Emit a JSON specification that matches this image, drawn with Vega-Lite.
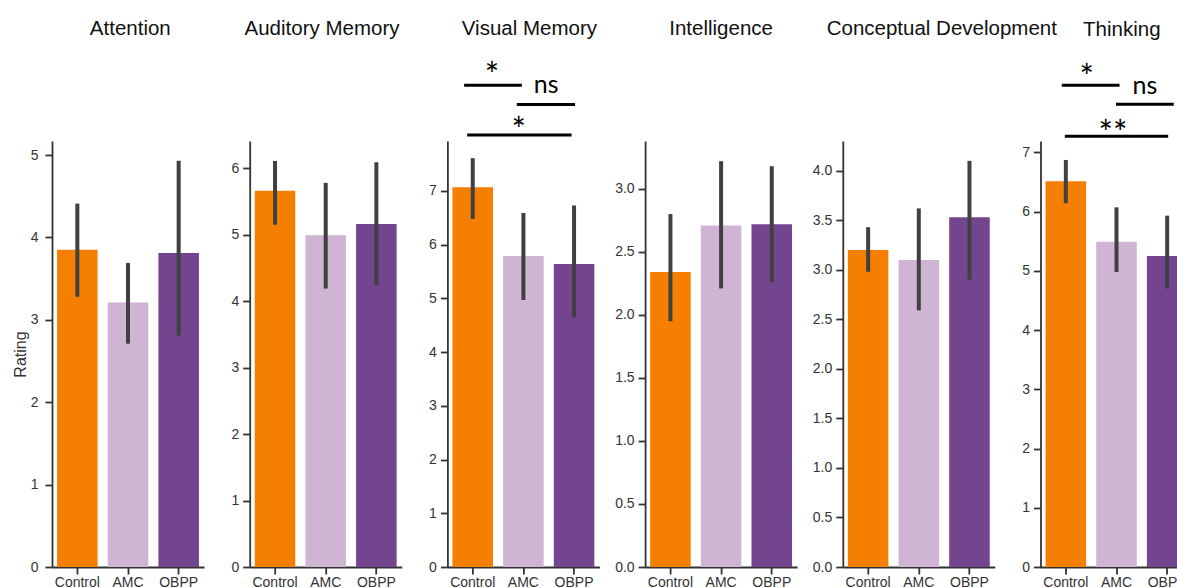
{
  "$schema": "https://vega.github.io/schema/vega-lite/v6.json",
  "padding": {"left": 12, "top": 18, "right": 0, "bottom": 0},
  "spacing": 45.7,
  "bounds": "flush",
  "datasets": {
    "bars": [
      {"panel": "Attention", "group": "Control", "mean": 3.85, "lo": 3.28, "hi": 4.41},
      {"panel": "Attention", "group": "AMC", "mean": 3.21, "lo": 2.71, "hi": 3.69},
      {"panel": "Attention", "group": "OBPP", "mean": 3.81, "lo": 2.81, "hi": 4.93},
      {"panel": "Auditory Memory", "group": "Control", "mean": 5.66, "lo": 5.15, "hi": 6.11},
      {"panel": "Auditory Memory", "group": "AMC", "mean": 4.99, "lo": 4.19, "hi": 5.78},
      {"panel": "Auditory Memory", "group": "OBPP", "mean": 5.16, "lo": 4.24, "hi": 6.09},
      {"panel": "Visual Memory", "group": "Control", "mean": 7.07, "lo": 6.48, "hi": 7.61},
      {"panel": "Visual Memory", "group": "AMC", "mean": 5.79, "lo": 4.97, "hi": 6.59},
      {"panel": "Visual Memory", "group": "OBPP", "mean": 5.64, "lo": 4.64, "hi": 6.73},
      {"panel": "Intelligence", "group": "Control", "mean": 2.34, "lo": 1.95, "hi": 2.8},
      {"panel": "Intelligence", "group": "AMC", "mean": 2.71, "lo": 2.21, "hi": 3.22},
      {"panel": "Intelligence", "group": "OBPP", "mean": 2.72, "lo": 2.26, "hi": 3.18},
      {"panel": "Conceptual Development", "group": "Control", "mean": 3.2, "lo": 2.98, "hi": 3.43},
      {"panel": "Conceptual Development", "group": "AMC", "mean": 3.1, "lo": 2.59, "hi": 3.62},
      {"panel": "Conceptual Development", "group": "OBPP", "mean": 3.53, "lo": 2.9, "hi": 4.1},
      {"panel": "Thinking", "group": "Control", "mean": 6.51, "lo": 6.14, "hi": 6.87},
      {"panel": "Thinking", "group": "AMC", "mean": 5.49, "lo": 4.98, "hi": 6.07},
      {"panel": "Thinking", "group": "OBPP", "mean": 5.25, "lo": 4.7, "hi": 5.93}
    ],
    "siglines": [
      {"panel": "Visual Memory", "x1": -0.17, "x2": 0.97, "y": 8.97},
      {"panel": "Visual Memory", "x1": 0.87, "x2": 2.02, "y": 8.61},
      {"panel": "Visual Memory", "x1": -0.11, "x2": 1.95, "y": 8.04},
      {"panel": "Thinking", "x1": -0.08, "x2": 1.06, "y": 8.13},
      {"panel": "Thinking", "x1": 0.99, "x2": 2.13, "y": 7.81},
      {"panel": "Thinking", "x1": -0.02, "x2": 2.02, "y": 7.27}
    ],
    "sigtext": [
      {"panel": "Visual Memory", "x": 0.38, "y": 8.94, "label": "*"},
      {"panel": "Visual Memory", "x": 1.45, "y": 8.82, "label": "ns"},
      {"panel": "Visual Memory", "x": 0.91, "y": 7.92, "label": "*"},
      {"panel": "Thinking", "x": 0.41, "y": 8.06, "label": "*"},
      {"panel": "Thinking", "x": 1.56, "y": 7.99, "label": "ns"},
      {"panel": "Thinking", "x": 0.93, "y": 7.13, "label": "**"}
    ]
  },
  "data": {"name": "bars"},
  "hconcat": [
    {
      "width": 152, "height": 426,
      "title": {"text": "Attention", "dx": 2.3, "offset": 102},
      "transform": [{"filter": "datum.panel === 'Attention'"}],
      "layer": [
        {
          "mark": {"type": "bar"},
          "encoding": {
            "x": {"field": "group", "type": "nominal", "sort": ["Control", "AMC", "OBPP"], "scale": {"paddingInner": 0.2, "paddingOuter": 0.1}, "axis": {"title": null, "labelAngle": 0}},
            "y": {"field": "mean", "type": "quantitative", "scale": {"domain": [0, 5.17], "nice": false}, "axis": {"title": "Rating", "titleFontSize": 16, "titleFont": "Liberation Sans", "titleFontWeight": "normal", "titleColor": "#333333", "titlePadding": 2, "values": [0, 1, 2, 3, 4, 5], "format": "d", "labelPadding": 7}},
            "color": {"field": "group", "type": "nominal", "scale": {"domain": ["Control", "AMC", "OBPP"], "range": ["#F57F00", "#D0B4D4", "#74458F"]}, "legend": null}
          }
        },
        {
          "mark": {"type": "rule", "strokeWidth": 4, "color": "#404040"},
          "encoding": {
            "x": {"field": "group", "type": "nominal", "sort": ["Control", "AMC", "OBPP"], "title": null},
            "y": {"field": "lo", "type": "quantitative", "scale": {"domain": [0, 5.17], "nice": false}, "title": "Rating"},
            "y2": {"field": "hi"}
          }
        }
      ]
    },
    {
      "width": 152, "height": 426,
      "title": {"text": "Auditory Memory", "dx": -3.7, "offset": 102},
      "transform": [{"filter": "datum.panel === 'Auditory Memory'"}],
      "layer": [
        {
          "mark": {"type": "bar"},
          "encoding": {
            "x": {"field": "group", "type": "nominal", "sort": ["Control", "AMC", "OBPP"], "scale": {"paddingInner": 0.2, "paddingOuter": 0.1}, "axis": {"title": null, "labelAngle": 0}},
            "y": {"field": "mean", "type": "quantitative", "scale": {"domain": [0, 6.41], "nice": false}, "axis": {"title": null, "values": [0, 1, 2, 3, 4, 5, 6], "format": "d"}},
            "color": {"field": "group", "type": "nominal", "scale": {"domain": ["Control", "AMC", "OBPP"], "range": ["#F57F00", "#D0B4D4", "#74458F"]}, "legend": null}
          }
        },
        {
          "mark": {"type": "rule", "strokeWidth": 4, "color": "#404040"},
          "encoding": {
            "x": {"field": "group", "type": "nominal", "sort": ["Control", "AMC", "OBPP"], "title": null},
            "y": {"field": "lo", "type": "quantitative", "scale": {"domain": [0, 6.41], "nice": false}, "title": null},
            "y2": {"field": "hi"}
          }
        }
      ]
    },
    {
      "width": 152, "height": 426,
      "title": {"text": "Visual Memory", "dx": 6, "offset": 20},
      "layer": [
        {
          "transform": [{"filter": "datum.panel === 'Visual Memory'"}],
          "layer": [
            {
              "mark": {"type": "bar"},
              "encoding": {
                "x": {"field": "group", "type": "nominal", "sort": ["Control", "AMC", "OBPP"], "scale": {"paddingInner": 0.2, "paddingOuter": 0.1}, "axis": {"title": null, "labelAngle": 0}},
                "y": {"field": "mean", "type": "quantitative", "scale": {"domain": [0, 7.93], "nice": false}, "axis": {"title": null, "values": [0, 1, 2, 3, 4, 5, 6, 7], "format": "d"}},
                "color": {"field": "group", "type": "nominal", "scale": {"domain": ["Control", "AMC", "OBPP"], "range": ["#F57F00", "#D0B4D4", "#74458F"]}, "legend": null}
              }
            },
            {
              "mark": {"type": "rule", "strokeWidth": 4, "color": "#404040"},
              "encoding": {
                "x": {"field": "group", "type": "nominal", "sort": ["Control", "AMC", "OBPP"], "title": null},
                "y": {"field": "lo", "type": "quantitative", "scale": {"domain": [0, 7.93], "nice": false}, "title": null},
                "y2": {"field": "hi"}
              }
            }
          ]
        },
        {
          "data": {"name": "siglines"},
          "transform": [{"filter": "datum.panel === 'Visual Memory'"}],
          "mark": {"type": "rule", "strokeWidth": 3, "color": "#000000", "clip": false},
          "encoding": {
            "x": {"field": "x1", "type": "quantitative", "scale": {"domain": [-0.5, 2.5], "nice": false, "zero": false}, "axis": null},
            "x2": {"field": "x2"},
            "y": {"field": "y", "type": "quantitative", "scale": {"domain": [0, 7.93], "nice": false}, "title": null}
          }
        },
        {
          "data": {"name": "sigtext"},
          "transform": [{"filter": "datum.panel === 'Visual Memory' && datum.label === 'ns'"}],
          "mark": {"type": "text", "font": "Lato", "fontSize": 25, "baseline": "alphabetic", "align": "center", "color": "#000000", "clip": false},
          "encoding": {
            "x": {"field": "x", "type": "quantitative", "scale": {"domain": [-0.5, 2.5], "nice": false, "zero": false}, "axis": null},
            "y": {"field": "y", "type": "quantitative", "scale": {"domain": [0, 7.93], "nice": false}, "title": null},
            "text": {"field": "label"}
          }
        },
        {
          "data": {"name": "sigtext"},
          "transform": [{"filter": "datum.panel === 'Visual Memory' && datum.label !== 'ns'"}],
          "mark": {"type": "text", "font": "Lato", "fontSize": 34, "baseline": "alphabetic", "align": "center", "color": "#000000", "clip": false},
          "encoding": {
            "x": {"field": "x", "type": "quantitative", "scale": {"domain": [-0.5, 2.5], "nice": false, "zero": false}, "axis": null},
            "y": {"field": "y", "type": "quantitative", "scale": {"domain": [0, 7.93], "nice": false}, "title": null},
            "text": {"field": "label"}
          }
        }
      ],
      "resolve": {"scale": {"x": "independent"}}
    },
    {
      "width": 152, "height": 426,
      "title": {"text": "Intelligence", "dx": 0, "offset": 102},
      "transform": [{"filter": "datum.panel === 'Intelligence'"}],
      "layer": [
        {
          "mark": {"type": "bar"},
          "encoding": {
            "x": {"field": "group", "type": "nominal", "sort": ["Control", "AMC", "OBPP"], "scale": {"paddingInner": 0.2, "paddingOuter": 0.1}, "axis": {"title": null, "labelAngle": 0}},
            "y": {"field": "mean", "type": "quantitative", "scale": {"domain": [0, 3.38], "nice": false}, "axis": {"title": null, "values": [0, 0.5, 1, 1.5, 2, 2.5, 3], "format": ".1f"}},
            "color": {"field": "group", "type": "nominal", "scale": {"domain": ["Control", "AMC", "OBPP"], "range": ["#F57F00", "#D0B4D4", "#74458F"]}, "legend": null}
          }
        },
        {
          "mark": {"type": "rule", "strokeWidth": 4, "color": "#404040"},
          "encoding": {
            "x": {"field": "group", "type": "nominal", "sort": ["Control", "AMC", "OBPP"], "title": null},
            "y": {"field": "lo", "type": "quantitative", "scale": {"domain": [0, 3.38], "nice": false}, "title": null},
            "y2": {"field": "hi"}
          }
        }
      ]
    },
    {
      "width": 152, "height": 426,
      "title": {"text": "Conceptual Development", "dx": 23, "offset": 102},
      "transform": [{"filter": "datum.panel === 'Conceptual Development'"}],
      "layer": [
        {
          "mark": {"type": "bar"},
          "encoding": {
            "x": {"field": "group", "type": "nominal", "sort": ["Control", "AMC", "OBPP"], "scale": {"paddingInner": 0.2, "paddingOuter": 0.1}, "axis": {"title": null, "labelAngle": 0}},
            "y": {"field": "mean", "type": "quantitative", "scale": {"domain": [0, 4.3], "nice": false}, "axis": {"title": null, "values": [0, 0.5, 1, 1.5, 2, 2.5, 3, 3.5, 4], "format": ".1f"}},
            "color": {"field": "group", "type": "nominal", "scale": {"domain": ["Control", "AMC", "OBPP"], "range": ["#F57F00", "#D0B4D4", "#74458F"]}, "legend": null}
          }
        },
        {
          "mark": {"type": "rule", "strokeWidth": 4, "color": "#404040"},
          "encoding": {
            "x": {"field": "group", "type": "nominal", "sort": ["Control", "AMC", "OBPP"], "title": null},
            "y": {"field": "lo", "type": "quantitative", "scale": {"domain": [0, 4.3], "nice": false}, "title": null},
            "y2": {"field": "hi"}
          }
        }
      ]
    },
    {
      "width": 152, "height": 426,
      "title": {"text": "Thinking", "dx": 5.3, "offset": 22},
      "layer": [
        {
          "transform": [{"filter": "datum.panel === 'Thinking'"}],
          "layer": [
            {
              "mark": {"type": "bar"},
              "encoding": {
                "x": {"field": "group", "type": "nominal", "sort": ["Control", "AMC", "OBPP"], "scale": {"paddingInner": 0.2, "paddingOuter": 0.1}, "axis": {"title": null, "labelAngle": 0}},
                "y": {"field": "mean", "type": "quantitative", "scale": {"domain": [0, 7.19], "nice": false}, "axis": {"title": null, "values": [0, 1, 2, 3, 4, 5, 6, 7], "format": "d"}},
                "color": {"field": "group", "type": "nominal", "scale": {"domain": ["Control", "AMC", "OBPP"], "range": ["#F57F00", "#D0B4D4", "#74458F"]}, "legend": null}
              }
            },
            {
              "mark": {"type": "rule", "strokeWidth": 4, "color": "#404040"},
              "encoding": {
                "x": {"field": "group", "type": "nominal", "sort": ["Control", "AMC", "OBPP"], "title": null},
                "y": {"field": "lo", "type": "quantitative", "scale": {"domain": [0, 7.19], "nice": false}, "title": null},
                "y2": {"field": "hi"}
              }
            }
          ]
        },
        {
          "data": {"name": "siglines"},
          "transform": [{"filter": "datum.panel === 'Thinking'"}],
          "mark": {"type": "rule", "strokeWidth": 3, "color": "#000000", "clip": false},
          "encoding": {
            "x": {"field": "x1", "type": "quantitative", "scale": {"domain": [-0.5, 2.5], "nice": false, "zero": false}, "axis": null},
            "x2": {"field": "x2"},
            "y": {"field": "y", "type": "quantitative", "scale": {"domain": [0, 7.19], "nice": false}, "title": null}
          }
        },
        {
          "data": {"name": "sigtext"},
          "transform": [{"filter": "datum.panel === 'Thinking' && datum.label === 'ns'"}],
          "mark": {"type": "text", "font": "Lato", "fontSize": 25, "baseline": "alphabetic", "align": "center", "color": "#000000", "clip": false},
          "encoding": {
            "x": {"field": "x", "type": "quantitative", "scale": {"domain": [-0.5, 2.5], "nice": false, "zero": false}, "axis": null},
            "y": {"field": "y", "type": "quantitative", "scale": {"domain": [0, 7.19], "nice": false}, "title": null},
            "text": {"field": "label"}
          }
        },
        {
          "data": {"name": "sigtext"},
          "transform": [{"filter": "datum.panel === 'Thinking' && datum.label !== 'ns'"}],
          "mark": {"type": "text", "font": "Lato", "fontSize": 34, "baseline": "alphabetic", "align": "center", "color": "#000000", "clip": false},
          "encoding": {
            "x": {"field": "x", "type": "quantitative", "scale": {"domain": [-0.5, 2.5], "nice": false, "zero": false}, "axis": null},
            "y": {"field": "y", "type": "quantitative", "scale": {"domain": [0, 7.19], "nice": false}, "title": null},
            "text": {"field": "label"}
          }
        }
      ],
      "resolve": {"scale": {"x": "independent"}}
    }
  ],
  "config": {
    "view": {"stroke": null},
    "axis": {
      "domainColor": "#333333", "domainWidth": 1.8,
      "tickColor": "#333333", "tickWidth": 1.8, "tickSize": 7,
      "labelFont": "Liberation Sans", "labelFontSize": 14, "labelColor": "#333333",
      "grid": false,
      "titleFont": "Liberation Sans", "titleFontSize": 16, "titleFontWeight": "normal", "titleColor": "#333333"
    },
    "axisY": {"labelPadding": 4, "titlePadding": 2},
    "axisX": {"labelPadding": 1},
    "title": {"font": "Liberation Sans", "fontSize": 20.5, "fontWeight": "normal", "color": "#111111", "anchor": "middle", "frame": "group", "baseline": "alphabetic"}
  }
}
